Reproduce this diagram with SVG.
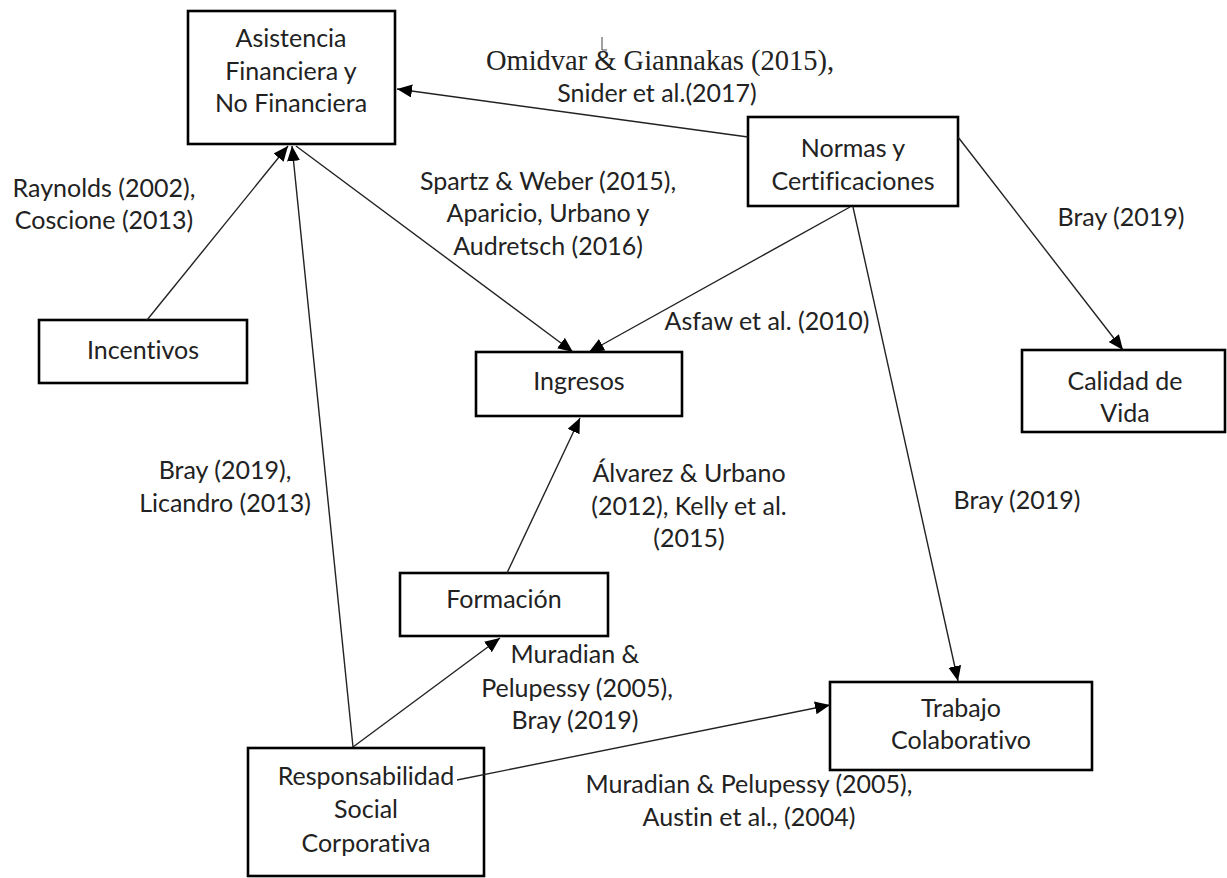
<svg xmlns="http://www.w3.org/2000/svg" width="1227" height="878" viewBox="0 0 1227 878">
<defs>
<marker id="arr" markerUnits="userSpaceOnUse" markerWidth="16" markerHeight="14" refX="15" refY="6.5" orient="auto">
<path d="M0,0 L15,6.5 L0,13 z" fill="#000"/>
</marker>
<style>
.box{fill:#fff;stroke:#000;stroke-width:2.6}
.t{font-family:Lato,"Open Sans","Liberation Sans",sans-serif;font-size:25px;fill:#222;text-anchor:middle;font-variant-ligatures:none}
.s{font-family:"Liberation Serif","Times New Roman",serif;font-size:28.5px;fill:#222;text-anchor:middle}
.c{stroke:#222;stroke-width:1.4;fill:none;marker-end:url(#arr)}
</style>
</defs>
<rect width="1227" height="878" fill="#fff"/>
<g id="asistencia">
<rect class="box" x="188" y="11" width="207" height="133"/>
<text class="t" x="291" y="47">Asistencia</text>
<text class="t" x="291" y="80">Financiera y</text>
<text class="t" x="291" y="112">No Financiera</text>
</g>
<g id="normas">
<rect class="box" x="748" y="117" width="210" height="89"/>
<text class="t" x="853" y="157">Normas y</text>
<text class="t" x="853" y="190">Certificaciones</text>
</g>
<g id="incentivos">
<rect class="box" x="39" y="320" width="208" height="63"/>
<text class="t" x="143" y="359">Incentivos</text>
</g>
<g id="ingresos">
<rect class="box" x="476" y="352" width="206" height="64"/>
<text class="t" x="579" y="390">Ingresos</text>
</g>
<g id="calidad">
<rect class="box" x="1022" y="350" width="203" height="82"/>
<text class="t" x="1125" y="390">Calidad de</text>
<text class="t" x="1125" y="422">Vida</text>
</g>
<g id="formacion">
<rect class="box" x="400" y="573" width="208" height="63"/>
<text class="t" x="504" y="608">Formación</text>
</g>
<g id="trabajo">
<rect class="box" x="830" y="682" width="262" height="88"/>
<text class="t" x="961" y="717">Trabajo</text>
<text class="t" x="961" y="749">Colaborativo</text>
</g>
<g id="rsc">
<rect class="box" x="248" y="748" width="236" height="128"/>
<text class="t" x="366" y="785">Responsabilidad</text>
<text class="t" x="366" y="818">Social</text>
<text class="t" x="366" y="852">Corporativa</text>
</g>
<g id="connectors">
<line class="c" x1="748" y1="137" x2="397" y2="89"/>
<line class="c" x1="147" y1="320" x2="288" y2="146"/>
<line class="c" x1="353" y1="747" x2="292" y2="146"/>
<line class="c" x1="296" y1="146" x2="573" y2="352"/>
<line class="c" x1="850" y1="207" x2="589" y2="352"/>
<line class="c" x1="958" y1="137" x2="1123" y2="350"/>
<line class="c" x1="853" y1="207" x2="958" y2="681"/>
<line class="c" x1="507" y1="573" x2="580" y2="418"/>
<line class="c" x1="353" y1="747" x2="500" y2="638"/>
<line class="c" x1="457" y1="780" x2="830" y2="705"/>
</g>
<g id="labels">
<text class="s" x="660" y="70">Omidvar &amp; Giannakas (2015),</text>
<path d="M602,37 V50 H607" stroke="#444" stroke-width="1" fill="none"/>
<text class="t" x="657" y="102">Snider et al.(2017)</text>
<text class="t" x="104" y="197">Raynolds (2002),</text>
<text class="t" x="104" y="229">Coscione (2013)</text>
<text class="t" x="548" y="190">Spartz &amp; Weber (2015),</text>
<text class="t" x="548" y="222">Aparicio, Urbano y</text>
<text class="t" x="548" y="255">Audretsch (2016)</text>
<text class="t" x="767" y="330">Asfaw et al. (2010)</text>
<text class="t" x="1121" y="226">Bray (2019)</text>
<text class="t" x="225" y="479">Bray (2019),</text>
<text class="t" x="225" y="512">Licandro (2013)</text>
<text class="t" x="689" y="482">Álvarez &amp; Urbano</text>
<text class="t" x="689" y="515">(2012), Kelly et al.</text>
<text class="t" x="689" y="547">(2015)</text>
<text class="t" x="1017" y="509">Bray (2019)</text>
<text class="t" x="575" y="663">Muradian &amp;</text>
<text class="t" x="577" y="697">Pelupessy (2005),</text>
<text class="t" x="575" y="729">Bray (2019)</text>
<text class="t" x="749" y="793">Muradian &amp; Pelupessy (2005),</text>
<text class="t" x="749" y="826">Austin et al., (2004)</text>
</g>
</svg>
